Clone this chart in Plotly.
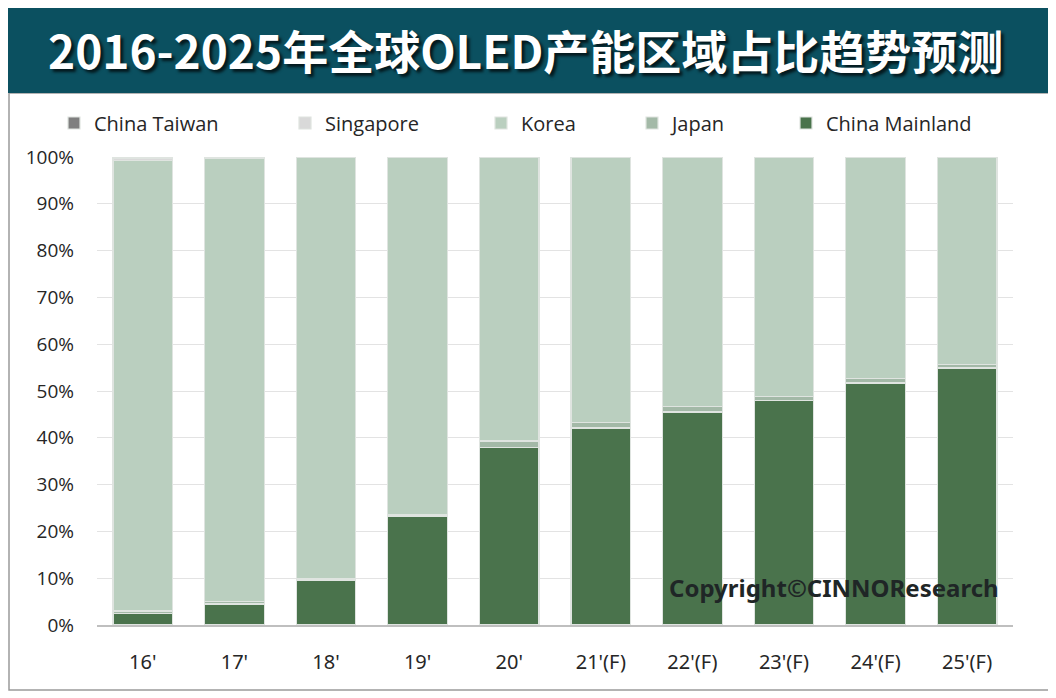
import plotly.graph_objects as go

years = ["16'", "17'", "18'", "19'", "20'", "21'(F)", "22'(F)", "23'(F)", "24'(F)", "25'(F)"]
china_mainland = [2.4, 4.5, 9.6, 23.3, 38.0, 42.1, 45.5, 47.9, 51.7, 54.9]
japan = [0.6, 0.5, 0.3, 0.3, 1.3, 1.1, 1.2, 1.0, 1.0, 0.8]
singapore = [0.4, 0.2, 0.1, 0.1, 0.1, 0.1, 0.1, 0.1, 0.1, 0.1]
china_taiwan = [0.3, 0.2, 0.0, 0.0, 0.0, 0.0, 0.0, 0.0, 0.0, 0.0]
korea = [100 - a - b - c - d for a, b, c, d in zip(china_mainland, japan, singapore, china_taiwan)]

# page has an 8px body margin, so work in window pixels and shift
OFF = 8
W, H = 1056 - OFF, 698 - OFF
L, R, T, B = 97, 1013, 157, 625   # plot area in window pixels


def px(x):
    return (x - L) / (R - L)


def py(y):
    return (B - y) / (B - T)


series = [
    ("China Mainland", china_mainland, "#4a734c", "legend5", 826),
    ("Japan", japan, "#a3b9a7", "legend4", 672),
    ("Korea", korea, "#bacfbf", "legend3", 521),
    ("Singapore", singapore, "#d9d9d9", "legend2", 325),
    ("China Taiwan", china_taiwan, "#7f7f7f", "legend", 94),
]

fig = go.Figure()
legends = {}
for name, vals, col, lg, tx in series:
    fig.add_trace(go.Bar(
        x=years, y=[v / 100 for v in vals], name=name, legend=lg,
        marker=dict(color=col, line=dict(color="#dfe4e0", width=1.2)),
    ))
    legends[lg] = dict(
        x=px(tx - 40), y=py(123), xanchor="left", yanchor="middle",
        orientation="h", bgcolor="rgba(0,0,0,0)", itemwidth=30,
        font=dict(family="Open Sans, Noto Sans", size=20, color="#262626"),
    )

fig.update_layout(
    barmode="stack", bargap=0.35,
    width=W, height=H,
    margin=dict(l=L - OFF, r=W - (R - OFF), t=T - OFF, b=H - (B - OFF)),
    paper_bgcolor="white", plot_bgcolor="white",
    showlegend=True,
    **legends,
)

fig.update_yaxes(
    range=[0, 1], dtick=0.1, tickformat=".0%",
    showgrid=True, gridcolor="#e3e3e3", gridwidth=1,
    zeroline=False, ticklabelstandoff=22,
    tickfont=dict(family="Open Sans, Noto Sans", size=19, color="#262626"),
)
fig.update_xaxes(
    showline=True, linecolor="#bfbfbf", linewidth=1.5,
    ticklabelstandoff=18,
    tickfont=dict(family="Liberation Sans Narrow, Noto Sans", size=20, color="#262626"),
)

# title banner and outer frame
fig.add_shape(type="rect", xref="paper", yref="paper",
              x0=px(9), x1=px(1050), y0=py(690), y1=py(93),
              line=dict(color="#9a9a9a", width=1.5), fillcolor="rgba(0,0,0,0)", layer="below")
fig.add_shape(type="rect", xref="paper", yref="paper",
              x0=px(0), x1=px(1052), y0=py(93), y1=py(6),
              line=dict(width=0), fillcolor="#0b5060", layer="below")

fig.add_annotation(
    text="2016-2025年全球OLED产能区域占比趋势预测",
    xref="paper", yref="paper", x=px(525), y=py(49),
    showarrow=False, xanchor="center", yanchor="middle",
    font=dict(family="Noto Sans CJK SC", size=46, color="white", weight="bold",
              shadow="3px 3px 3px rgba(0,0,0,0.7)"),
)
fig.add_annotation(
    text="Copyright©CINNOResearch",
    xref="paper", yref="paper", x=px(834), y=py(587),
    showarrow=False, xanchor="center", yanchor="middle",
    font=dict(family="Liberation Sans Narrow, Noto Sans", size=24, color="#1f2626", weight="bold"),
)

fig.write_html("out.html")
